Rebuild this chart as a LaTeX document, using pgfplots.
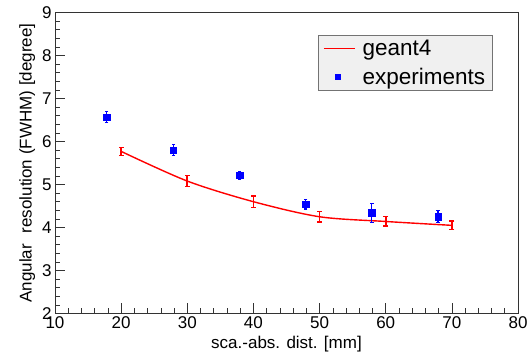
\documentclass[border=0pt]{standalone}
\usepackage{fontspec}
\setmainfont{Liberation Sans}
\usepackage{pgfplots}
\pgfplotsset{compat=1.18}
\pgfplotstableread{
x y
20 5.77
30 5.08
40 4.60
50 4.25
60 4.14
70 4.05
}\geant
\pgfplotstableread{
x y
17.8 6.57
27.9 5.80
37.9 5.21
47.9 4.54
57.9 4.34
67.9 4.25
}\expdata
\begin{document}
\begin{tikzpicture}[x=1pt,y=1pt]
\path[use as bounding box] (0,0) rectangle (529,358);
\begin{axis}[
  at={(55pt,44.5pt)}, anchor=south west,
  scale only axis, width=463pt, height=301pt,
  xmin=10, xmax=80, ymin=2, ymax=9,
  xtick={10,20,...,80}, ytick={2,3,...,9},
  minor x tick num=4, minor y tick num=4,
  tick align=inside, tick pos=left,
  major tick length=10pt, minor tick length=5pt,
  axis line style={black!80, line width=0.8pt},
  tick style={black!80, line width=0.6pt},
  unbounded coords=jump,
  /pgf/number format/assume math mode=true,
  ticklabel style={font=\fontsize{17}{17}\selectfont},
  xlabel={sca.-abs. dist. [mm]},
  ylabel={Angular\hspace{0.35em} resolution (FWHM) [degree]},
  label style={font=\fontsize{17}{17}\selectfont},
  legend style={at={(rel axis cs:0.568,0.925)}, anchor=north west,
    fill=black!6, draw=black!55, line width=0.8pt,
    font=\fontsize{22.5}{22.5}\selectfont,
    inner xsep=5pt, inner ysep=2.5pt, row sep=7pt,
    /tikz/column sep=5pt},
  legend cell align=left,
]
% geant4 curve
\addplot[color=red, line width=1.4pt, smooth, mark=none,
  legend image code/.code={\draw[draw=red, line width=1.2pt] (0pt,0pt) -- (31pt,0pt);}]
  table[x=x, y=y]{\geant};
\addlegendentry{geant4}
% experiments
\addplot[only marks, color=blue, mark=square*, mark size=3.2pt,
  legend image code/.code={\path[draw=none] (0pt,0pt) -- (31pt,0pt);
     \fill[blue] (11.5pt,-2.5pt) rectangle (16.5pt,2.5pt);}]
  table[x=x, y=y]{\expdata};
\addlegendentry{experiments}
% geant4 error bars
\addplot[draw=red, line width=1.6pt, mark=none, forget plot] coordinates {
  (20,5.68) (20,5.86) (20,nan)
  (30,4.95) (30,5.21) (30,nan)
  (40,4.47) (40,4.73) (40,nan)
  (50,4.13) (50,4.37) (50,nan)
  (60,4.03) (60,4.25) (60,nan)
  (70,3.95) (70,4.15)
};
\addplot[only marks, mark=-, mark size=2.4pt, mark options={draw=red, line width=1.5pt}, forget plot] coordinates {
  (20,5.68) (20,5.86) (30,4.95) (30,5.21) (40,4.47) (40,4.73)
  (50,4.13) (50,4.37) (60,4.03) (60,4.25) (70,3.95) (70,4.15)
};
% experiment error bars
\addplot[draw=blue, line width=1.2pt, mark=none, forget plot] coordinates {
  (17.8,6.44) (17.8,6.70) (17.8,nan)
  (27.9,5.67) (27.9,5.93) (27.9,nan)
  (37.9,5.11) (37.9,5.31) (37.9,nan)
  (47.9,4.43) (47.9,4.65) (47.9,nan)
  (57.9,4.12) (57.9,4.56) (57.9,nan)
  (67.9,4.11) (67.9,4.39)
};
\addplot[only marks, mark=-, mark size=1.8pt, mark options={draw=blue, line width=1.1pt}, forget plot] coordinates {
  (17.8,6.44) (17.8,6.70) (27.9,5.67) (27.9,5.93) (37.9,5.11) (37.9,5.31)
  (47.9,4.43) (47.9,4.65) (57.9,4.12) (57.9,4.56) (67.9,4.11) (67.9,4.39)
};
\end{axis}
\end{tikzpicture}
\end{document}
